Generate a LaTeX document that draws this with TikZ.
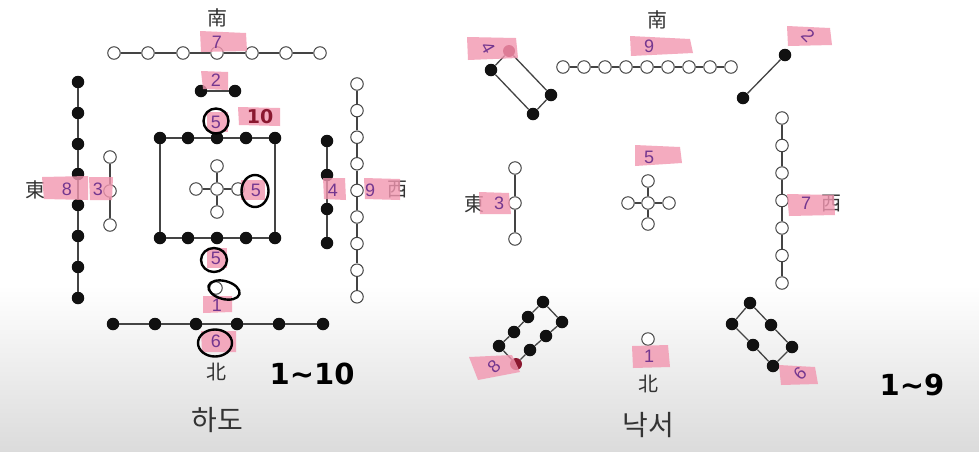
\documentclass[tikz,border=0pt]{standalone}
\usepackage{fontspec}
\setmainfont{Liberation Sans}
\newfontfamily\cjk{Noto Sans CJK KR}
\newfontfamily\numfont{Liberation Sans}
\newfontfamily\symfont{DejaVu Sans}
\definecolor{linegray}{HTML}{444444}
\definecolor{dotblack}{HTML}{111111}
\definecolor{hlpink}{HTML}{F296B0}
\definecolor{numpurple}{HTML}{74378F}
\definecolor{inkred}{HTML}{8A1830}
\definecolor{txtgray}{HTML}{333333}
\tikzset{
  wc/.style={circle, draw=linegray, fill=white, line width=1pt, minimum size=12.5pt, inner sep=0pt},
  bd/.style={circle, fill=dotblack, minimum size=12.5pt, inner sep=0pt},
  rd/.style={circle, fill=inkred, minimum size=12pt, inner sep=0pt},
  ln/.style={draw=linegray, line width=1.3pt},
  hl/.style={fill=hlpink, opacity=0.8},
  num/.style={text=numpurple, font=\numfont\fontsize{18}{18}\selectfont, inner sep=0pt},
  dir/.style={text=txtgray, font=\cjk\fontsize{20}{20}\selectfont, inner sep=0pt},
  title/.style={text=txtgray, font=\cjk\fontsize{28}{28}\selectfont, inner sep=0pt},
  ink/.style={draw=black, line width=2.4pt},
  hand/.style={text=black, font=\symfont\bfseries\fontsize{29}{29}\selectfont, inner sep=0pt}
}
\begin{document}
\begin{tikzpicture}[x=1pt,y=-1pt]
\useasboundingbox (0,0) rectangle (979,451);
\fill[white] (0,0) rectangle (979,451);
\shade[top color=white, bottom color=black!14] (0,285) rectangle (979,451);

% ================= HETU =================
% top row 7 white
\foreach \i/\x in {1/114,2/148,3/183,4/217,5/252,6/286,7/320}
  \node[wc] (ht\i) at (\x,53) {};
\draw[ln] (ht1)--(ht2) (ht2)--(ht3) (ht3)--(ht4) (ht4)--(ht5) (ht5)--(ht6) (ht6)--(ht7);
% two black
\node[bd] (h2a) at (201,91) {};
\node[bd] (h2b) at (235,91) {};
\draw[ln] (h2a)--(h2b);
% inner square
\foreach \i/\x in {1/160,2/188,3/217,4/246,5/275}{
  \node[bd] (hs\i) at (\x,138) {};
  \node[bd] (hb\i) at (\x,238) {};
}
\draw[ln] (hs1)--(hs2) (hs2)--(hs3) (hs3)--(hs4) (hs4)--(hs5);
\draw[ln] (hb1)--(hb2) (hb2)--(hb3) (hb3)--(hb4) (hb4)--(hb5);
\draw[ln] (hs1)--(hb1) (hs5)--(hb5);
% inner cross
\node[wc] (hc) at (217,189) {};
\node[wc] (hcn) at (217,166) {};
\node[wc] (hcs) at (217,212) {};
\node[wc] (hcw) at (196,189) {};
\node[wc] (hce) at (238,189) {};
\draw[ln] (hc)--(hcn) (hc)--(hcs) (hc)--(hcw) (hc)--(hce);
% left 8 black
\foreach \i/\y in {1/82,2/113,3/144,4/174,5/205,6/236,7/267,8/298}
  \node[bd] (hl\i) at (78,\y) {};
\draw[ln] (hl1)--(hl2) (hl2)--(hl3) (hl3)--(hl4) (hl4)--(hl5) (hl5)--(hl6) (hl6)--(hl7) (hl7)--(hl8);
% left 3 white
\foreach \i/\y in {1/157,2/191,3/225}
  \node[wc] (hw\i) at (110,\y) {};
\draw[ln] (hw1)--(hw2) (hw2)--(hw3);
% right 4 black
\foreach \i/\y in {1/141,2/175,3/209,4/243}
  \node[bd] (hr\i) at (327,\y) {};
\draw[ln] (hr1)--(hr2) (hr2)--(hr3) (hr3)--(hr4);
% right 9 white
\foreach \i in {1,...,9}
  \node[wc] (hn\i) at (357,{84+26.6*(\i-1)}) {};
\draw[ln] (hn1)--(hn2) (hn2)--(hn3) (hn3)--(hn4) (hn4)--(hn5) (hn5)--(hn6) (hn6)--(hn7) (hn7)--(hn8) (hn8)--(hn9);
% bottom white one
\node[wc] (hone) at (216,288) {};
% bottom 6 black
\foreach \i/\x in {1/113,2/155,3/196,4/237,5/279,6/323}
  \node[bd] (hk\i) at (\x,324) {};
\draw[ln] (hk1)--(hk2) (hk2)--(hk3) (hk3)--(hk4) (hk4)--(hk5) (hk5)--(hk6);

% direction labels
\node[dir] (hS) at (217,18) {南};
\node[dir] (hE) at (35,190) {東};
\node[dir] (hW) at (397,190) {西};
\node[dir] (hN) at (216,372) {北};
\node[title] (hT) at (217,420) {하도};

% pink highlights
\fill[hl] (200,31) -- (246,33) -- (247,51) -- (201,52) -- cycle;
\fill[hl] (201,71) -- (228,72) -- (228,90) -- (203,89) -- cycle;
\fill[hl] (207,112) rectangle (228,132);
\fill[hl] (238,107) -- (280,108) -- (280,126) -- (239,125) -- cycle;
\fill[hl] (241,180) rectangle (265,200);
\fill[hl] (42,177) -- (88,176) -- (88,200) -- (44,199) -- cycle;
\fill[hl] (89,177) -- (113,177) -- (112,200) -- (90,200) -- cycle;
\fill[hl] (323,178) -- (345,178) -- (346,200) -- (324,199) -- cycle;
\fill[hl] (364,178) -- (400,179) -- (400,200) -- (365,199) -- cycle;
\fill[hl] (207,248) rectangle (227,268);
\fill[hl] (203,296) -- (232,296) -- (232,312) -- (203,313) -- cycle;
\fill[hl] (201,331) -- (236,331) -- (236,352) -- (202,352) -- cycle;

% numbers
\node[num] (n7) at (217,42) {7};
\node[num] (n2) at (216,80) {2};
\node[num] (n5a) at (216,122) {5};
\node[text=inkred, font=\symfont\bfseries\fontsize{19}{19}\selectfont, inner sep=0pt] (n10) at (260,117) {10};
\node[num] (n5b) at (256,190) {5};
\node[num] (n8) at (67,189) {8};
\node[num] (n3) at (98,189) {3};
\node[num] (n4) at (333,190) {4};
\node[num] (n9) at (370,190) {9};
\node[num] (n5c) at (216,258) {5};
\node[num] (n1) at (217,305) {1};
\node[num] (n6) at (216,341) {6};

% handwritten loops
\draw[ink] (216,121) ellipse [x radius=12.5pt, y radius=12.5pt];
\draw[ink] (255,191) ellipse [x radius=13.5pt, y radius=16pt];
\draw[ink] (214,260) ellipse [x radius=13pt, y radius=12pt];
\draw[ink, rotate around={-15:(224,290)}] (224,290) ellipse [x radius=16pt, y radius=9pt];
\draw[ink] (215,343) ellipse [x radius=17pt, y radius=13.5pt];
\node[hand] (h110) at (312,374) {1∼10};

% ================= LUOSHU =================
% top 9 white
\foreach \i in {1,...,9}
  \node[wc] (lt\i) at ({563+21*(\i-1)},67) {};
\draw[ln] (lt1)--(lt2) (lt2)--(lt3) (lt3)--(lt4) (lt4)--(lt5) (lt5)--(lt6) (lt6)--(lt7) (lt7)--(lt8) (lt8)--(lt9);
% 4 black
\node[rd] (l4a) at (509,51) {};
\node[bd] (l4b) at (491,70) {};
\node[bd] (l4c) at (551,95) {};
\node[bd] (l4d) at (533,114) {};
\draw[ln] (l4a)--(l4b) (l4a)--(l4c) (l4b)--(l4d) (l4c)--(l4d);
% 2 black
\node[bd] (l2a) at (785,55) {};
\node[bd] (l2b) at (743,98) {};
\draw[ln] (l2a)--(l2b);
% 3 white
\foreach \i/\y in {1/168,2/203,3/239}
  \node[wc] (l3\i) at (515,\y) {};
\draw[ln] (l31)--(l32) (l32)--(l33);
% center 5
\node[wc] (lc) at (648,203) {};
\node[wc] (lcn) at (648,181) {};
\node[wc] (lcs) at (648,224) {};
\node[wc] (lcw) at (628,203) {};
\node[wc] (lce) at (669,203) {};
\draw[ln] (lc)--(lcn) (lc)--(lcs) (lc)--(lcw) (lc)--(lce);
% 7 white
\foreach \i in {1,...,7}
  \node[wc] (l7\i) at (782,{118+27.5*(\i-1)}) {};
\draw[ln] (l71)--(l72) (l72)--(l73) (l73)--(l74) (l74)--(l75) (l75)--(l76) (l76)--(l77);
% 8 black
\node[bd] (l8a1) at (543,302) {};
\node[bd] (l8a2) at (528,317) {};
\node[bd] (l8a3) at (514,332) {};
\node[bd] (l8a4) at (499,346) {};
\node[bd] (l8b1) at (562,322) {};
\node[bd] (l8b2) at (546,336) {};
\node[bd] (l8b3) at (530,350) {};
\node[rd] (l8b4) at (516,364) {};
\draw[ln] (l8a1)--(l8a2) (l8a2)--(l8a3) (l8a3)--(l8a4);
\draw[ln] (l8b1)--(l8b2) (l8b2)--(l8b3) (l8b3)--(l8b4);
\draw[ln] (l8a1)--(l8b1) (l8a4)--(l8b4);
% 6 black
\node[bd] (l6c1) at (750,303) {};
\node[bd] (l6c2) at (771,325) {};
\node[bd] (l6c3) at (792,347) {};
\node[bd] (l6d1) at (732,324) {};
\node[bd] (l6d2) at (753,345) {};
\node[bd] (l6d3) at (773,366) {};
\draw[ln] (l6c1)--(l6c2) (l6c2)--(l6c3) (l6d1)--(l6d2) (l6d2)--(l6d3);
\draw[ln] (l6c1)--(l6d1) (l6c3)--(l6d3);
% 1 white
\node[wc] (lone) at (648,339) {};

% labels
\node[dir] (lS) at (657,20) {南};
\node[dir] (lE) at (474,204) {東};
\node[dir] (lW) at (831,204) {西};
\node[dir] (lN) at (648,384) {北};
\node[title] (lT) at (648,425) {낙서};

% highlights
\fill[hl] (467,37) -- (516,38) -- (518,58) -- (468,60) -- cycle;
\fill[hl] (630,36) -- (690,39) -- (693,53) -- (631,56) -- cycle;
\fill[hl] (787,26) -- (830,28) -- (832,45) -- (788,46) -- cycle;
\fill[hl] (479,192) -- (509,193) -- (511,214) -- (480,214) -- cycle;
\fill[hl] (635,145) -- (680,147) -- (682,163) -- (635,166) -- cycle;
\fill[hl] (787,194) -- (834,195) -- (835,215) -- (789,216) -- cycle;
\fill[hl] (469,357) -- (512,355) -- (520,372) -- (478,380) -- cycle;
\fill[hl] (632,346) -- (668,345) -- (670,367) -- (633,368) -- cycle;
\fill[hl] (779,365) -- (815,367) -- (818,384) -- (781,385) -- cycle;

\node[num, rotate=-60] (m4) at (488,48) {4};
\node[num] (m9) at (649,46) {9};
\node[num, rotate=-45] (m2) at (808,36) {2};
\node[num] (m3) at (499,203) {3};
\node[num] (m5) at (649,157) {5};
\node[num] (m7) at (806,203) {7};
\node[num, rotate=45] (m8) at (494,367) {8};
\node[num] (m1) at (649,356) {1};
\node[num, rotate=45] (m6) at (800,374) {6};

\node[hand] (h19) at (912,385) {1∼9};
\end{tikzpicture}
\end{document}
